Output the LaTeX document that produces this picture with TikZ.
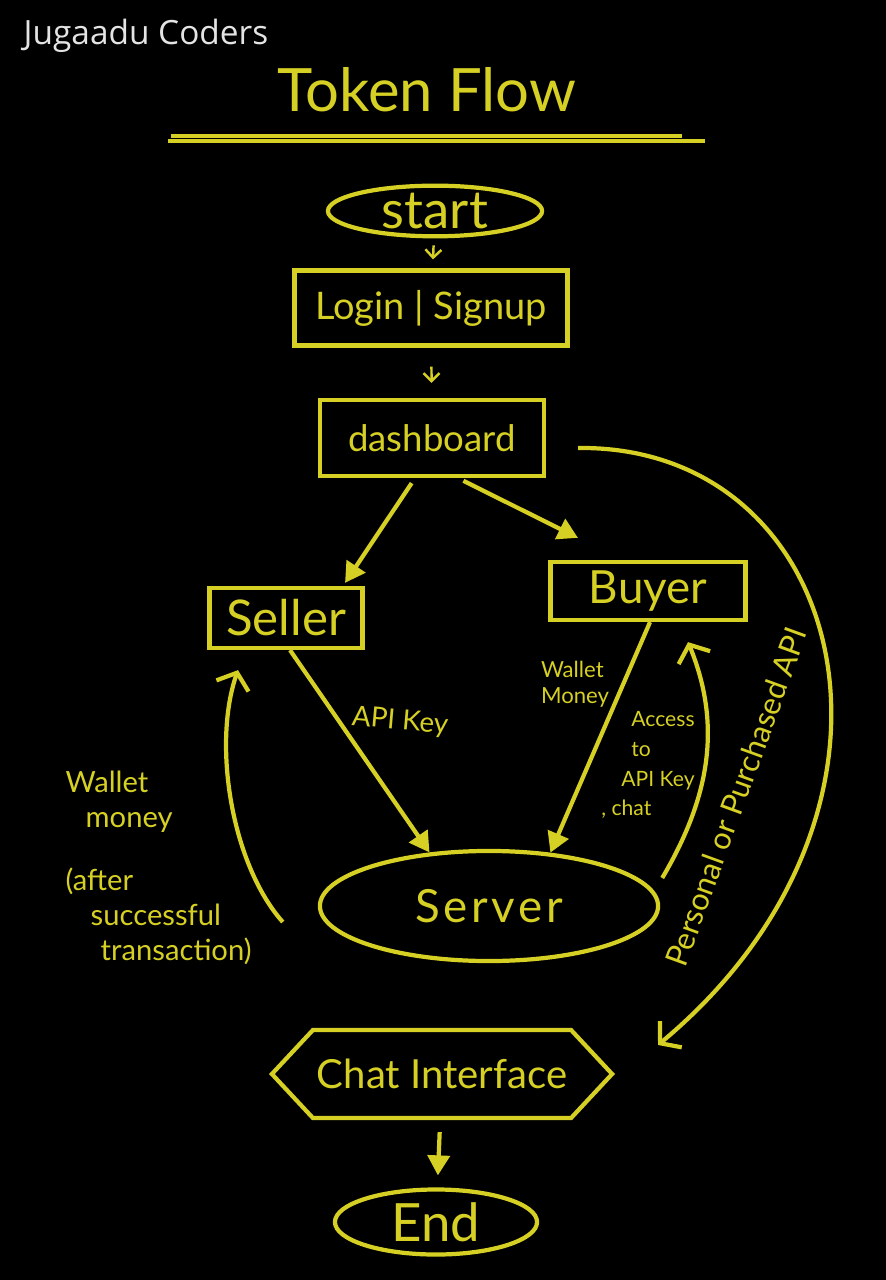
\documentclass[tikz,border=0pt]{standalone}
\usepackage{fontspec}
\setmainfont{Lato}
\newfontfamily\uifont{Open Sans}
\newfontfamily\spaced[LetterSpace=8]{Lato}
\usepackage{tikz}
\usetikzlibrary{shapes.geometric}
\usetikzlibrary{shapes.symbols}
\usetikzlibrary{arrows.meta}
\definecolor{marker}{RGB}{214,208,36}
\definecolor{uigray}{RGB}{228,228,228}
\tikzset{box/.style={draw=marker,line width=1.2pt,text=marker,inner sep=0pt}}
\tikzset{oval/.style={box,ellipse}}
\tikzset{hexa/.style={box,signal,signal to=west and east,signal pointer angle=94}}
\tikzset{flow/.style={marker,line width=1.2pt,-{Triangle[length=0.2cm,width=0.22cm]}}}
\tikzset{curl/.style={marker,line width=1.2pt,-{Straight Barb[length=0.14cm,width=0.34cm]}}}
\tikzset{tick/.style={marker,line width=0.7pt,-{Straight Barb[length=0.08cm,width=0.16cm]}}}
\tikzset{note/.style={text=marker,inner sep=0pt,align=left}}

\begin{document}
\begin{tikzpicture}[x=0.01cm,y=-0.01cm]
                \useasboundingbox (0,0) rectangle (886,1280);
                \fill[black] (0,0) rectangle (886,1280);

                % Header
                \node[anchor=west,inner sep=0pt,text=uigray,font=\uifont\fontsize{9.5}{11}\selectfont] (brand) at (23,36) {Jugaadu Coders};
                \node[note,font=\fontsize{17}{20}\selectfont] (title) at (427,90) {Token Flow};
                \draw[marker,line width=1.2pt] (171,136) -- (682,136);
                \draw[marker,line width=1.2pt] (168,141) -- (705,141);

                % Steps
                \node[oval,minimum width=2.14cm,minimum height=0.40cm,font=\fontsize{15}{16}\selectfont] (start) at (435,211) {start};
                \node[box,minimum width=2.73cm,minimum height=0.75cm,font=\fontsize{10.8}{13}\selectfont] (login) at (431,308) {Login | Signup};
                \node[box,minimum width=2.24cm,minimum height=0.76cm,font=\fontsize{10.4}{12}\selectfont] (dash) at (432,438) {dashboard};
                \node[box,minimum width=1.53cm,minimum height=0.60cm,font=\fontsize{14}{16}\selectfont] (seller) at (286,618) {Seller};
                \node[box,minimum width=1.95cm,minimum height=0.58cm,font=\fontsize{13}{15}\selectfont] (buyer) at (648,591) {Buyer};
                \node[oval,minimum width=3.38cm,minimum height=1.10cm,font=\spaced\fontsize{13}{15}\selectfont] (server) at (489,906) {Server};
                \node[hexa,minimum width=3.40cm,minimum height=0.88cm,font=\fontsize{11.4}{13}\selectfont] (chat) at (442,1074) {Chat Interface};
                \node[oval,minimum width=2.02cm,minimum height=0.65cm,font=\fontsize{15}{16}\selectfont] (end) at (436,1222) {End};

                % Straight arrows
                \draw[tick,shorten <=0.07cm,shorten >=0.09cm] (start) -- (login);
                \draw[tick,shorten <=0.19cm,shorten >=0.15cm] (login) -- (dash);
                \draw[flow,shorten <=0.06cm] ([xshift=-0.17cm]dash.south) -- ([xshift=0.59cm,yshift=0.03cm]seller.north);
                \draw[flow,shorten <=0.06cm] ([xshift=0.26cm]dash.south) -- ([xshift=-0.70cm,yshift=0.22cm]buyer.north);
                \draw[flow] ([xshift=0.04cm]seller.south) -- (server.138);
                \draw[flow] ([xshift=0.02cm]buyer.south) -- (server.41);
                \draw[flow,shorten <=0.12cm,shorten >=0.12cm] (chat) -- (end);

                % Curved arrows
                \draw[curl] ([xshift=0.02cm,yshift=0.28cm]server.east) .. controls (710,797) and (722,725) .. ([xshift=0.40cm,yshift=-0.20cm]buyer.south);
                \draw[curl] ([xshift=-0.35cm,yshift=-0.16cm]server.west) .. controls (232,865) and (212,745) .. ([xshift=-0.48cm,yshift=-0.20cm]seller.south);
                \draw[curl] ([xshift=0.32cm,yshift=-0.10cm]dash.east) .. controls (850,445) and (940,810) .. ([xshift=0.43cm,yshift=0.29cm]chat.east);

                % Labels
                \node[note,rotate=-5,font=\fontsize{7.9}{9}\selectfont] (apikey) at (400,722) {API Key};
                \node[note,font=\fontsize{6.3}{7.5}\selectfont] (wallet) at (575,684) {Wallet\\Money};
                \node[note,font=\fontsize{6}{8.5}\selectfont] (access) at (648,765) {\hspace{0.3cm}Access\\\hspace{0.3cm}to\\\hspace{0.2cm}API Key\\, chat};
                \node[note,anchor=north west,font=\fontsize{8.3}{10}\selectfont] (payout) at (65,770) {Wallet\\\hspace{0.2cm}money\\[0.28cm](after\\\hspace{0.25cm}successful\\\hspace{0.35cm}transaction)};
                \node[note,rotate=70,font=\fontsize{8.8}{10}\selectfont] (route) at (736,797) {Personal or Purchased API};
            \end{tikzpicture}
\end{document}
